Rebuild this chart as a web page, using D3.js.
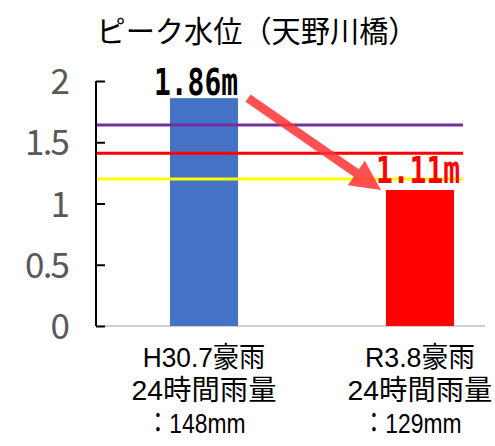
<!DOCTYPE html>
<html>
<head>
<meta charset="utf-8">
<script src="https://cdn.jsdelivr.net/npm/d3@7"></script>
<style>
  html, body { margin: 0; padding: 0; background: #fff; }
  svg { display: block; }
</style>
</head>
<body>
<svg id="chart" width="495" height="446"></svg>
<script>
// Peak water level at Amanogawa bridge for two heavy-rain events
const categories = ["H30.7豪雨", "R3.8豪雨"];
const rainfall24h = [148, 129];          // 24-hour rainfall (mm)
const peakLevels = [1.86, 1.11];         // peak level (m)
const barColors = ["#4472C4", "#FF0000"];
const labelColors = ["#000000", "#FF0000"];

// Reference water levels drawn as horizontal lines
const thresholdValues = [1.64, 1.41, 1.20];
const thresholdColors = ["#7030A0", "#FF0000", "#FFFF00"];

const yTicks = [0, 0.5, 1, 1.5, 2];
const title = "ピーク水位（天野川橋）";

const sansFont = "\"Noto Sans CJK JP\", \"Noto Sans\", sans-serif";
const monoFont = "\"DejaVu Sans Mono\", \"Noto Sans CJK JP\", monospace";
const labelFont = "\"Liberation Sans\", \"Noto Sans CJK JP\", sans-serif";
const svg = d3.select("#chart");

const axisX = 96, lineEnd = 463, baseEnd = 485;
const y = d3.scaleLinear().domain([0, 2]).range([326, 81]);
const x = d3.scaleBand().domain(categories).range([96, 528])
  .paddingInner(0.685).paddingOuter(0.3426);

// Width estimate for condensed text: half-width glyphs are narrow
function textWidth(str, half, full) {
  let w = 0;
  for (const ch of str) w += ch.charCodeAt(0) < 0x2000 ? half : full;
  return w;
}

// Title
svg.append("text")
  .attr("x", 257).attr("y", 29)
  .attr("text-anchor", "middle").attr("dominant-baseline", "central")
  .style("font-family", sansFont)
  .attr("font-size", 30).attr("fill", "#000")
  .attr("textLength", 321).attr("lengthAdjust", "spacingAndGlyphs")
  .text(title);

// Baseline
svg.append("line")
  .attr("x1", axisX).attr("x2", baseEnd)
  .attr("y1", y(0)).attr("y2", y(0))
  .attr("stroke", "#D0D0D0").attr("stroke-width", 2);

// Bars
svg.selectAll("rect.bar").data(categories).join("rect")
  .attr("class", "bar")
  .attr("x", d => x(d))
  .attr("width", x.bandwidth())
  .attr("y", (d, i) => y(peakLevels[i]))
  .attr("height", (d, i) => y(0) - y(peakLevels[i]))
  .attr("fill", (d, i) => barColors[i]);

// Threshold lines
svg.selectAll("line.th").data(thresholdValues).join("line")
  .attr("class", "th")
  .attr("x1", axisX).attr("x2", lineEnd)
  .attr("y1", d => y(d)).attr("y2", d => y(d))
  .attr("stroke", (d, i) => thresholdColors[i])
  .attr("stroke-width", 3);

// Y axis with inward ticks
const yAxis = d3.axisLeft(y).tickValues(yTicks)
  .tickSizeInner(-9).tickSizeOuter(0).tickPadding(26)
  .tickFormat(d => String(d));
const gy = svg.append("g").attr("transform", `translate(${axisX},0)`).call(yAxis);
gy.select(".domain").attr("stroke", "#000").attr("stroke-width", 2)
  .attr("d", `M0,${y(2)}V${y(0)}`);
gy.selectAll(".tick line").attr("stroke", "#000").attr("stroke-width", 2);
gy.selectAll(".tick text")
  .style("font-family", sansFont)
  .attr("font-size", 35).attr("fill", "#595959")
  .attr("dy", "0.36em")
  .attr("textLength", d => String(d).length * 15)
  .attr("lengthAdjust", "spacing");

// Arrow from the first peak down to the second
(function drawArrow() {
  const x0 = x(categories[0]) + x.bandwidth() + 10, y0 = y(peakLevels[0]);
  const x1 = x(categories[1]) - 5, y1 = y(peakLevels[1]);
  const len = Math.hypot(x1 - x0, y1 - y0);
  const ang = Math.atan2(y1 - y0, x1 - x0) * 180 / Math.PI;
  const sw = 4.5, hw = 15, hl = 30;
  const pts = [[0, -sw], [len - hl, -sw], [len - hl, -hw], [len, 0],
               [len - hl, hw], [len - hl, sw], [0, sw]];
  svg.append("path")
    .attr("d", d3.line()(pts) + "Z")
    .attr("transform", `translate(${x0},${y0}) rotate(${ang})`)
    .attr("fill", "#FF3333").attr("fill-opacity", 0.85);
})();

// Value labels above the bars
const labelOffsets = [[-8, -3], [-2, -7]];
svg.selectAll("text.value").data(categories).join("text")
  .attr("class", "value")
  .attr("x", (d, i) => x(d) + x.bandwidth() / 2 + labelOffsets[i][0])
  .attr("y", (d, i) => y(peakLevels[i]) + labelOffsets[i][1])
  .attr("text-anchor", "middle")
  .style("font-family", monoFont)
  .attr("font-size", 38).attr("font-weight", "bold")
  .attr("fill", (d, i) => labelColors[i])
  .attr("textLength", 84).attr("lengthAdjust", "spacingAndGlyphs")
  .text((d, i) => peakLevels[i].toFixed(2) + "m");

// Category labels (three lines each, one text block per category)
categories.forEach((c, i) => {
  const cx = x(c) + x.bandwidth() / 2;
  const lines = [c, "24時間雨量", "：" + rainfall24h[i] + "mm"];
  const lineY = [367, 400, 433];
  const t = svg.append("text")
    .style("font-family", labelFont)
    .attr("font-size", 28).attr("fill", "#000")
    .attr("text-anchor", "middle");
  lines.forEach((s, j) => {
    const w = j === 2 ? 30 + String(rainfall24h[i]).length * 13 + 30 : textWidth(s, 12.5, 30);
    t.append("tspan")
      .attr("x", cx - (j === 2 ? 8 : 0)).attr("y", lineY[j])
      .attr("textLength", w).attr("lengthAdjust", "spacingAndGlyphs")
      .text(s);
  });
});
</script>
</body>
</html>
